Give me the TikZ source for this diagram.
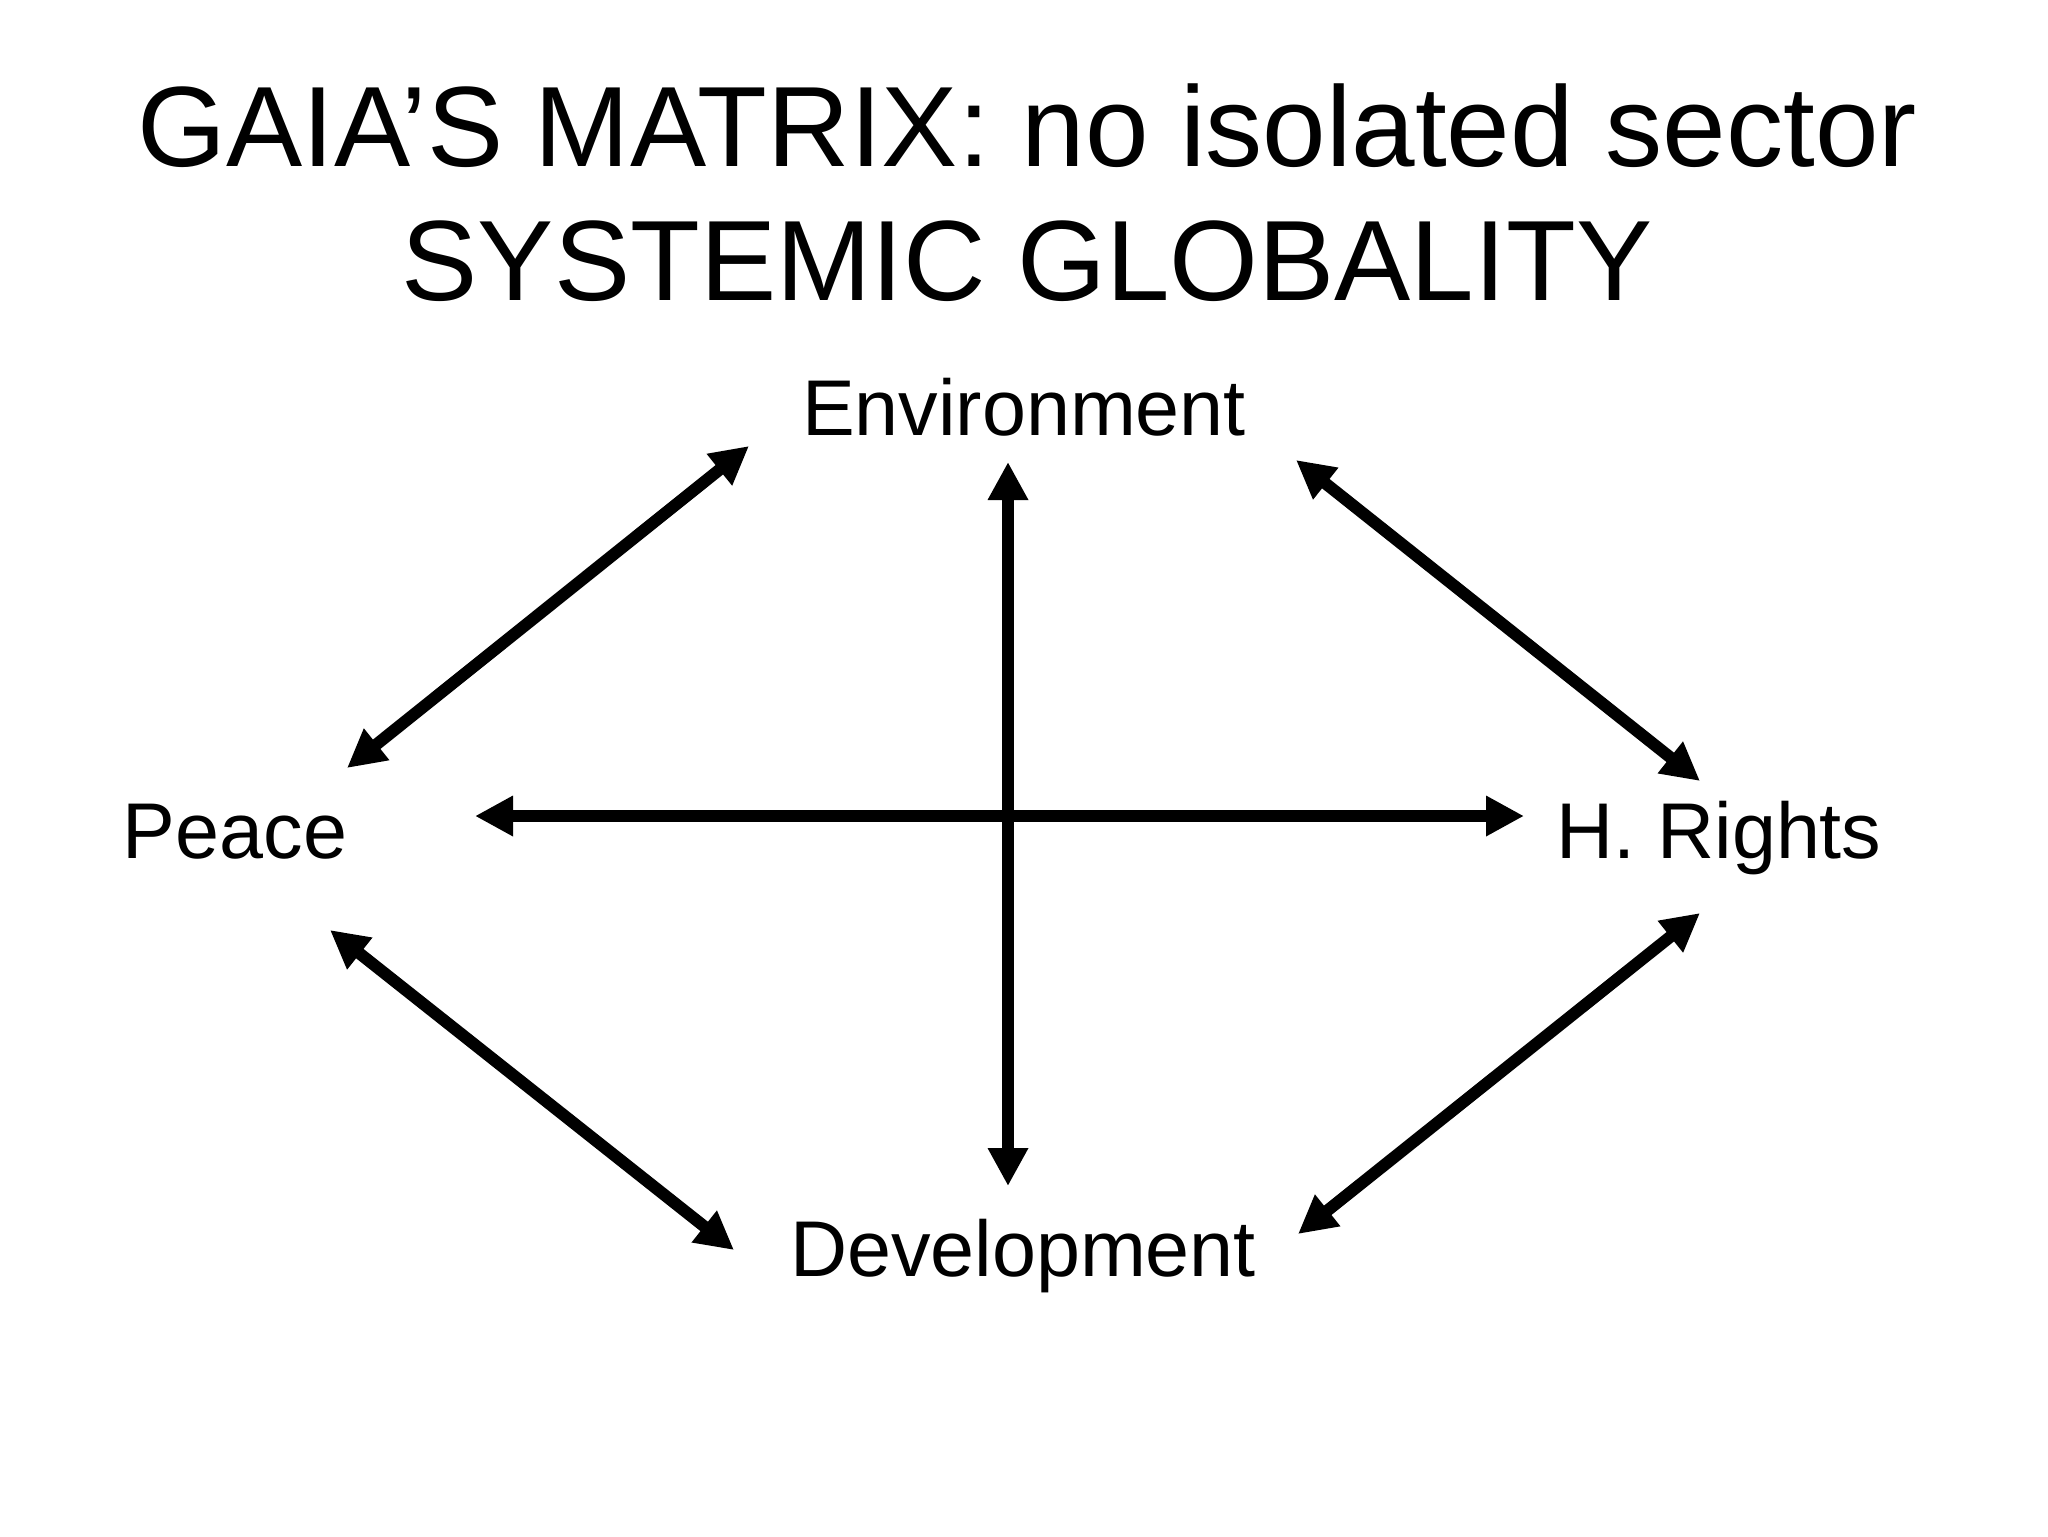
\documentclass[tikz,border=0pt]{standalone}
\usepackage{fontspec}
\setmainfont{Liberation Sans}
\usetikzlibrary{arrows.meta}

\begin{document}
\begin{tikzpicture}[x=1mm,y=-1mm,
	heading/.style={font=\fontsize{32.5}{39}\selectfont, anchor=base, inner sep=0pt},
	sector/.style={font=\fontsize{22.5}{27}\selectfont, anchor=base, inner sep=0pt},
	link/.style={{Triangle[length=3.8mm,width=3.8mm]}-{Triangle[length=3.8mm,width=3.8mm]}, line width=1.2mm}]
	\useasboundingbox (0,0) rectangle (204.8,153.6);

	\node[heading] (title) at (102.7,16.6) {GAIA’S MATRIX: no isolated sector};
	\node[heading] (subtitle) at (102.7,30.0) {SYSTEMIC GLOBALITY};

	\node[sector] (environment) at (102.4,43.5) {Environment};
	\node[sector] (peace) at (23.5,85.8) {Peace};
	\node[sector] (hrights) at (171.9,85.8) {H. Rights};
	\node[sector] (development) at (102.3,127.6) {Development};

	% arrow ends
	\coordinate (env-peace) at (74.9,44.6);
	\coordinate (peace-env) at (34.7,76.8);
	\coordinate (env-hrights) at (129.6,46.0);
	\coordinate (hrights-env) at (170.0,78.1);
	\coordinate (peace-dev) at (33.0,93.0);
	\coordinate (dev-peace) at (73.4,125.0);
	\coordinate (dev-hrights) at (129.8,123.4);
	\coordinate (hrights-dev) at (170.0,91.3);
	\coordinate (env-dev) at (100.8,46.2);
	\coordinate (dev-env) at (100.8,118.6);
	\coordinate (peace-hrights) at (47.5,81.6);
	\coordinate (hrights-peace) at (152.4,81.6);

	\draw[link] (env-peace) -- (peace-env);
	\draw[link] (env-hrights) -- (hrights-env);
	\draw[link] (peace-dev) -- (dev-peace);
	\draw[link] (dev-hrights) -- (hrights-dev);
	\draw[link] (env-dev) -- (dev-env);
	\draw[link] (peace-hrights) -- (hrights-peace);
\end{tikzpicture}
\end{document}
